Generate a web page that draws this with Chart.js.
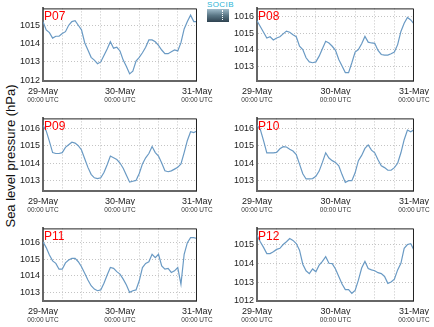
<!DOCTYPE html>
<html lang="en">
<head>
<meta charset="UTF-8">
<title>Sea level pressure</title>
<script src="https://cdn.jsdelivr.net/npm/chart.js"></script>
<style>
  body { margin: 0; background: #fff; }
  #wrap { position: relative; width: 434px; height: 327px; overflow: hidden; font-family: "Liberation Sans", Arial, sans-serif; }
  #wrap canvas { position: absolute; }
  #ytitle { position: absolute; left: 10px; top: 156px; transform: translate(-50%, -50%) rotate(-90deg); white-space: nowrap; font-size: 13px; color: #111; }
  #logo { position: absolute; left: 207px; top: 1px; width: 22px; text-align: center; }
  #logo span { display: block; font-size: 8px; line-height: 8px; color: #2ab4d6; letter-spacing: 0.4px; }
  #logo div { position: relative; height: 13px; background: linear-gradient(#a0bccb, #5a7685 50%, #2e4250); }
  #logo div::after { content: ""; position: absolute; left: 15px; top: 1px; bottom: 2px; border-left: 1px dotted #fff; }
</style>
</head>
<body>
<div id="wrap">
  <div id="ytitle">Sea level pressure (hPa)</div>
  <div id="logo"><span>SOCIB</span><div></div></div>
</div>

<script>
// hours since 29-May 00:00 UTC
const hours = [0, 1, 2, 3, 4, 5, 6, 7, 8, 9, 10, 11, 12, 13, 14, 15, 16, 17, 18, 19, 20, 21, 22, 23, 24,
               25, 26, 27, 28, 29, 30, 31, 32, 33, 34, 35, 36, 37, 38, 39, 40, 41, 42, 43, 44, 45, 46, 47, 48];
const dateLabels = ['29-May', '30-May', '31-May'];
const timeLabel = '00:00 UTC';

// sea level pressure (hPa), hourly
const p07 = [1015.2, 1014.75, 1014.6, 1014.3, 1014.4, 1014.4, 1014.55, 1014.65, 1015.0, 1015.2, 1015.25, 1015.0, 1014.75,
             1014.05, 1013.65, 1013.25, 1013.1, 1012.9, 1013.0, 1013.35, 1013.7, 1014.1, 1013.75, 1013.8, 1013.6,
             1013.1, 1012.75, 1012.35, 1012.5, 1013.05, 1013.25, 1013.5, 1013.8, 1014.2, 1014.2, 1014.1, 1013.9,
             1013.65, 1013.45, 1013.45, 1013.55, 1013.65, 1013.6, 1014.05, 1014.8, 1015.2, 1015.55, 1015.2, 1015.2];
const p08 = [1015.74, 1015.4, 1015.05, 1014.7, 1014.78, 1014.58, 1014.7, 1014.78, 1014.95, 1015.12, 1015.05, 1014.9, 1014.78,
             1014.2, 1014.0, 1013.5, 1013.25, 1013.2, 1013.25, 1013.6, 1014.05, 1014.5, 1014.4, 1014.2, 1013.95,
             1013.4, 1013.0, 1012.6, 1012.6, 1013.2, 1013.85, 1014.0, 1014.35, 1014.8, 1014.45, 1014.4, 1014.38,
             1013.95, 1013.7, 1013.66, 1013.66, 1013.75, 1013.85, 1014.3, 1015.1, 1015.6, 1015.95, 1015.8, 1015.56];
const p09 = [1016.17, 1015.85, 1015.25, 1014.6, 1014.55, 1014.55, 1014.6, 1014.9, 1015.05, 1015.2, 1015.15, 1015.0, 1014.75,
             1014.25, 1013.75, 1013.35, 1013.15, 1013.1, 1013.15, 1013.45, 1013.9, 1014.4, 1014.3, 1014.2, 1014.0,
             1013.7, 1013.3, 1012.9, 1012.95, 1013.0, 1013.4, 1013.95, 1014.3, 1014.55, 1014.95, 1014.6, 1014.4,
             1014.0, 1013.55, 1013.5, 1013.55, 1013.65, 1013.75, 1013.95, 1014.6, 1015.3, 1015.8, 1015.75, 1015.85];
const p10 = [1016.17, 1015.95, 1015.3, 1014.6, 1014.6, 1014.6, 1014.62, 1014.83, 1014.95, 1014.93, 1014.8, 1014.7, 1014.5,
             1013.95, 1013.4, 1013.1, 1013.1, 1013.12, 1013.25, 1013.55, 1014.05, 1014.6, 1014.3, 1014.15, 1014.05,
             1013.85, 1013.35, 1012.9, 1013.0, 1013.0, 1013.45, 1014.15, 1014.45, 1014.85, 1015.05, 1014.75, 1014.6,
             1014.2, 1013.85, 1013.75, 1013.6, 1013.6, 1013.75, 1014.0, 1014.6, 1015.35, 1015.9, 1015.8, 1015.92];
const p11 = [1016.05, 1015.7, 1015.25, 1014.9, 1014.75, 1014.4, 1014.4, 1014.78, 1014.95, 1015.05, 1015.05, 1014.85, 1014.55,
             1014.15, 1013.75, 1013.4, 1013.2, 1013.1, 1013.15, 1013.55, 1014.05, 1014.5, 1014.45, 1014.25, 1014.1,
             1013.8, 1013.45, 1013.0, 1013.1, 1013.15, 1013.7, 1014.5, 1014.75, 1014.85, 1015.3, 1015.1, 1015.3,
             1014.6, 1014.4, 1014.45, 1014.2, 1014.3, 1014.5, 1013.5, 1015.3, 1016.0, 1016.3, 1016.3, 1016.25];
const p12 = [1015.5, 1015.15, 1014.85, 1014.52, 1014.52, 1014.61, 1014.74, 1014.8, 1015.0, 1015.15, 1015.32, 1015.22, 1015.05,
             1014.7, 1013.95, 1013.6, 1013.45, 1013.7, 1013.55, 1013.9, 1014.1, 1014.35, 1014.0, 1013.98, 1013.7,
             1013.3, 1012.9, 1012.6, 1012.6, 1012.4, 1012.55, 1013.1, 1013.75, 1014.1, 1013.72, 1013.65, 1013.6,
             1013.5, 1013.45, 1013.3, 1012.93, 1013.0, 1013.15, 1013.65, 1014.0, 1014.8, 1015.0, 1015.05, 1014.7];

const FONT = '"Liberation Sans", Arial, sans-serif';

// solid top/right frame plus the station name in the corner
const framePlugin = {
  id: 'frame',
  afterDraw(chart, args, opts) {
    const { ctx, chartArea: a } = chart;
    ctx.save();
    ctx.strokeStyle = '#222';
    ctx.lineWidth = 1;
    ctx.beginPath();
    ctx.moveTo(a.left, a.top + 0.5);
    ctx.lineTo(a.right - 0.5, a.top + 0.5);
    ctx.lineTo(a.right - 0.5, a.bottom);
    ctx.stroke();
    ctx.fillStyle = '#ff0000';
    ctx.font = '12px ' + FONT;
    ctx.textBaseline = 'alphabetic';
    ctx.fillText(opts.name, a.left + 1, a.top + 12);
    ctx.restore();
  }
};

function panel(name, values, yMin, yMax, left, top, axisW, padRight) {
  const cv = document.createElement('canvas');
  cv.width = 217;
  cv.height = 104;
  cv.style.left = left + 'px';
  cv.style.top = top + 'px';
  document.getElementById('wrap').appendChild(cv);

  const grid = { color: '#c4c4c4', lineWidth: 1, drawTicks: false };
  new Chart(cv, {
    type: 'line',
    data: {
      datasets: [{
        data: hours.map((h, i) => ({ x: h, y: values[i] })),
        borderColor: '#6a9ac4',
        borderWidth: 1.2,
        pointRadius: 0,
        tension: 0,
        fill: false
      }]
    },
    options: {
      responsive: false,
      animation: false,
      layout: { padding: { top: 8, right: padRight, left: 0, bottom: 0 } },
      plugins: { legend: { display: false }, tooltip: { enabled: false }, frame: { name: name } },
      scales: {
        x: {
          type: 'linear', min: 0, max: 48,
          grid: grid,
          border: { display: true, color: '#666', width: 2, dash: [1, 2] },
          ticks: {
            stepSize: 6, autoSkip: false, maxRotation: 0, padding: 5,
            color: '#222', font: { family: FONT, size: 9 },
            callback: v => v % 24 === 0 ? dateLabels[v / 24] : ''
          },
          afterFit: s => { s.height = 14; }
        },
        // second row of x labels, smaller
        x2: {
          type: 'linear', position: 'bottom', display: true, min: 0, max: 48,
          grid: { display: false, drawTicks: false },
          border: { display: false },
          ticks: {
            stepSize: 6, autoSkip: false, maxRotation: 0, padding: 1,
            color: '#333', font: { family: FONT, size: 6.5 },
            callback: v => v % 24 === 0 ? timeLabel : ''
          },
          afterFit: s => { s.height = 9; }
        },
        y: {
          min: yMin, max: yMax,
          grid: grid,
          border: { display: true, color: '#666', width: 2, dash: [1, 2] },
          ticks: {
            stepSize: 1, includeBounds: false, padding: 3,
            color: '#222', font: { family: FONT, size: 9 },
            callback: v => v.toFixed(0)
          },
          afterFit: s => { s.width = axisW; }
        }
      }
    },
    plugins: [framePlugin]
  });
}

panel('P07', p07, 1011.96, 1015.92, 0, 0, 43, 18);
panel('P08', p08, 1012.09, 1016.50, 217, 0, 40, 19);
panel('P09', p09, 1012.39, 1016.57, 0, 110, 43, 18);
panel('P10', p10, 1012.41, 1016.57, 217, 110, 40, 19);
panel('P11', p11, 1012.48, 1016.86, 0, 220, 43, 18);
panel('P12', p12, 1011.99, 1015.86, 217, 220, 40, 19);
</script>
</body>
</html>
